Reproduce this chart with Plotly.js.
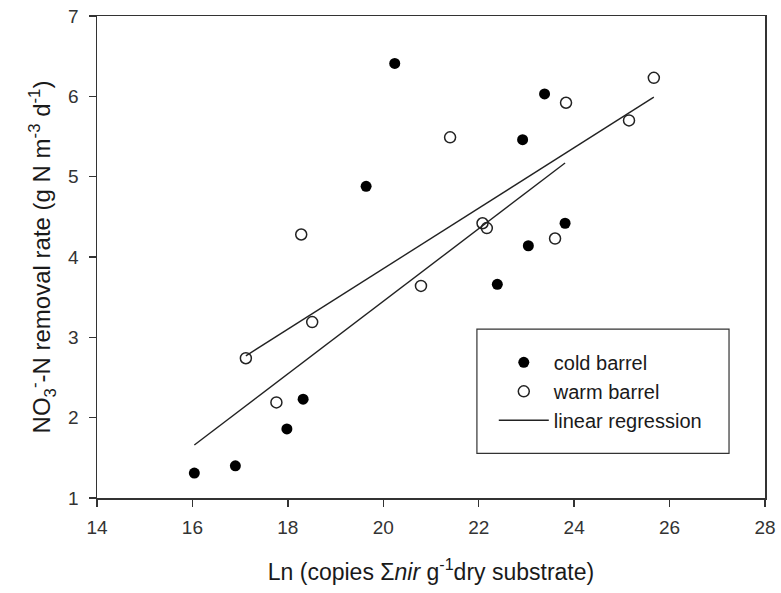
<!DOCTYPE html>
<html>
<head>
<meta charset="utf-8">
<script src="https://cdn.plot.ly/plotly-3.0.1.min.js"></script>
<style>html,body{margin:0;padding:0;background:#fff;}#chart{width:781px;height:593px;}</style>
</head>
<body>
<div id="chart"></div>
<script>
// Cold barrel (filled circles)
var coldX = [16.04, 16.90, 17.98, 18.32, 19.64, 20.24, 22.39, 22.92, 23.04, 23.38, 23.81];
var coldY = [1.31, 1.40, 1.86, 2.23, 4.88, 6.41, 3.66, 5.46, 4.14, 6.03, 4.42];
// Warm barrel (open circles)
var warmX = [17.12, 17.76, 18.28, 18.51, 20.79, 21.40, 22.08, 22.17, 23.60, 23.83, 25.15, 25.67];
var warmY = [2.74, 2.19, 4.28, 3.19, 3.64, 5.49, 4.42, 4.36, 4.23, 5.92, 5.70, 6.23];
// Linear regression end points (cold, then warm)
var regColdX = [16.04, 23.81];
var regColdY = [1.66, 5.17];
var regWarmX = [17.12, 25.67];
var regWarmY = [2.77, 5.99];
var xTicks = [14, 16, 18, 20, 22, 24, 26, 28];
var yTicks = [1, 2, 3, 4, 5, 6, 7];

var font = "Liberation Sans, Arial, sans-serif";
var ink = "#1a1a1a";

var traces = [
  {x: coldX, y: coldY, mode: "markers", type: "scatter", name: "cold barrel",
   marker: {symbol: "circle", size: 11, color: "#000", line: {width: 0}}},
  {x: warmX, y: warmY, mode: "markers", type: "scatter", name: "warm barrel",
   marker: {symbol: "circle-open", size: 11, color: "#222", line: {width: 1.5, color: "#222"}}},
  {x: regColdX.concat([null], regWarmX), y: regColdY.concat([null], regWarmY),
   mode: "lines", type: "scatter", name: "linear regression",
   line: {color: "#222", width: 1.4}}
];

var layout = {
  width: 781, height: 593,
  margin: {l: 96.5, r: 16, t: 15.5, b: 95},
  paper_bgcolor: "#fff", plot_bgcolor: "#fff",
  font: {family: font, color: ink, size: 19},
  showlegend: true,
  legend: {x: 0.594, y: 0.322, xanchor: "left", yanchor: "top",
           bgcolor: "rgba(0,0,0,0)", borderwidth: 0,
           font: {family: font, size: 20, color: ink}, itemwidth: 50},
  xaxis: {range: [14, 28], tickvals: xTicks, ticktext: xTicks.map(String),
          ticks: "outside", ticklen: 7, tickwidth: 1.5, tickcolor: "#333",
          ticklabelstandoff: 5,
          showline: true, linecolor: "#333", linewidth: 1.5, mirror: true,
          showgrid: false, zeroline: false,
          tickfont: {family: font, size: 19, color: "#333"},
          title: {text: "Ln (copies \u03A3<i>nir</i> g<sup>-1</sup>dry substrate)",
                  font: {family: font, size: 23, color: ink}, standoff: 26}},
  yaxis: {range: [1, 7], tickvals: yTicks, ticktext: yTicks.map(String),
          ticks: "outside", ticklen: 7, tickwidth: 1.5, tickcolor: "#333",
          ticklabelstandoff: 6,
          showline: true, linecolor: "#333", linewidth: 1.5, mirror: true,
          showgrid: false, zeroline: false,
          tickfont: {family: font, size: 19, color: "#333"},
          title: {text: "NO<sub>3</sub><sup>-</sup>-N removal rate (g N m<sup>-3</sup> d<sup>-1</sup>)",
                  font: {family: font, size: 24, color: ink}, standoff: 10}},
  shapes: [{type: "rect", xref: "paper", yref: "paper",
            x0: (476.7 - 96.5) / 668.5, x1: (729 - 96.5) / 668.5,
            y0: (498 - 453.3) / 482.5, y1: (498 - 329) / 482.5,
            line: {color: "#333", width: 1.2}, fillcolor: "rgba(0,0,0,0)"}]
};

Plotly.newPlot("chart", traces, layout, {staticPlot: true, displayModeBar: false});
</script>
</body>
</html>
